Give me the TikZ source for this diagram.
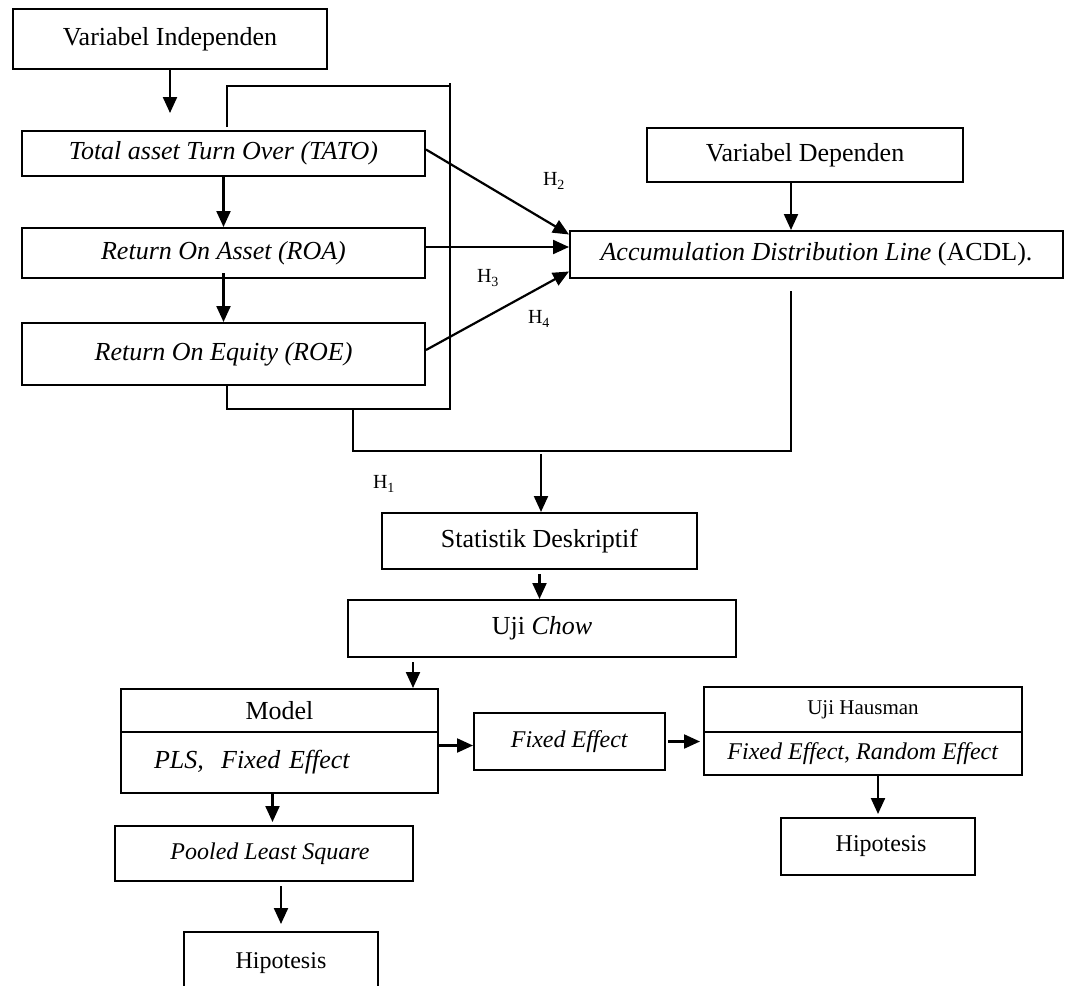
\documentclass[tikz,border=0pt]{standalone}
\usepackage{fontspec}
\setmainfont{Liberation Serif}
\usepackage{tikz}
\usetikzlibrary{arrows.meta}
\newcommand{\bigtxt}{\fontsize{26}{31}\selectfont}
\newcommand{\midtxt}{\fontsize{24}{29}\selectfont}
\newcommand{\smalltxt}{\fontsize{21}{25}\selectfont}
\tikzset{
box/.style={draw, line width=2pt, inner sep=0pt, font=\bigtxt},
arr/.style={-{Triangle[length=16pt,width=14pt]}, line width=2.2pt},
line/.style={line width=2pt},
hlbl/.style={font=\fontsize{20}{24}\selectfont}
}

\begin{document}
\begin{tikzpicture}[x=1pt,y=-1pt]
\useasboundingbox (0,0) rectangle (1065,985);

\node[box, minimum width=314, minimum height=60] (indep) at (170,39) {Variabel Independen};
\node[box, minimum width=403, minimum height=45] (tato) at (223.5,153.5) {\textit{Total asset Turn Over (TATO)}};
\node[box, minimum width=403, minimum height=50] (roa) at (223.5,253) {\textit{Return On Asset (ROA)}};
\node[box, minimum width=403, minimum height=62] (roe) at (223.5,354) {\textit{Return On Equity (ROE)}};

\node[box, minimum width=316, minimum height=54] (dep) at (805,155) {Variabel Dependen};
\node[box, minimum width=493, minimum height=47] (acdl) at (816.5,254.5) {\textit{Accumulation Distribution Line} (ACDL).};

\node[box, minimum width=315, minimum height=56] (stat) at (539.5,541) {Statistik Deskriptif};
\node[box, minimum width=388, minimum height=57] (chow) at (542,628.5) {Uji \textit{Chow}};

\node[box, minimum width=317, minimum height=43] (modtop) at (279.5,710.5) {Model};
\node[box, minimum height=61, inner xsep=33pt, text width=251pt, align=left] (modbot) at (279.5,762.5) {\mbox{\textit{PLS,\ \ Fixed Effect}}};
\node[box, font=\midtxt, minimum width=191, minimum height=57] (fixed) at (569.5,741.5) {\textit{Fixed Effect}};
\node[box, font=\smalltxt, minimum width=318, minimum height=45] (haustop) at (863,709.5) {Uji Hausman};
\node[box, font=\midtxt, minimum width=318, minimum height=43] (hausbot) at (863,753.5) {\textit{Fixed Effect}, \textit{Random Effect}};
\node[box, font=\midtxt, minimum width=194, minimum height=57] (hipa) at (878,846.5) {\ Hipotesis};

\node[box, font=\midtxt, minimum width=298, minimum height=55] (pooled) at (264,853.5) {\ \ \textit{Pooled Least Square}};
\node[box, font=\midtxt, minimum width=194, minimum height=62] (hipb) at (281,963) {Hipotesis};

\node[hlbl] (h2) at (554,181) {H\textsubscript{2}};
\node[hlbl] (h3) at (488,278) {H\textsubscript{3}};
\node[hlbl] (h4) at (539,319) {H\textsubscript{4}};
\node[hlbl] (h1) at (384,484) {H\textsubscript{1}};

\coordinate (independ) at (170,113);
\coordinate (join) at (541,451);

\draw[arr] (indep.south) -- (independ);
\draw[arr] (tato.south) -- (roa.north);
\draw[arr] ([yshift=6pt]roa.south) -- (roe.north);

\draw[line] ([xshift=3.5pt,yshift=3pt]tato.north) |- (450,86);
\draw[line] ([xshift=3.5pt]roe.south) -- ++(0,23) -| (450,83);

\draw[arr] ([yshift=4pt]tato.east) -- ([yshift=20pt]acdl.west);
\draw[arr] ([yshift=6pt]roa.east) -- ([yshift=6pt]roa.east -| acdl.west);
\draw[arr] ([yshift=4pt]roe.east) -- ([yshift=-17pt]acdl.west);
\draw[arr] ([xshift=-14pt]dep.south) -- ([xshift=-14pt]dep.south |- acdl.north);

\draw[line] (353,410) |- (join) -| ([xshift=-25.5pt,yshift=-12pt]acdl.south);
\draw[arr, shorten <=3pt] (join) -- (join |- stat.north);
\draw[arr, shorten <=4pt] (stat.south) -- (stat.south |- chow.north);
\draw[arr, shorten <=4pt] ([xshift=-26pt]modtop.north east |- chow.south) -- ([xshift=-26pt]modtop.north east);

\draw[arr] ([yshift=-4pt]fixed.west -| modbot.east) -- ([yshift=-4pt]fixed.west);
\draw[arr, shorten <=2pt, shorten >=3pt] (fixed.east) -- (fixed.east -| hausbot.west);
\draw[arr, shorten >=3pt] (hipa.north |- hausbot.south) -- (hipa.north);
\draw[arr, shorten >=3pt] ([xshift=-7pt]modbot.south) -- ([xshift=-7pt]modbot.south |- pooled.north);
\draw[arr, shorten <=4pt, shorten >=7pt] (hipb.north |- pooled.south) -- (hipb.north);

\end{tikzpicture}
\end{document}
